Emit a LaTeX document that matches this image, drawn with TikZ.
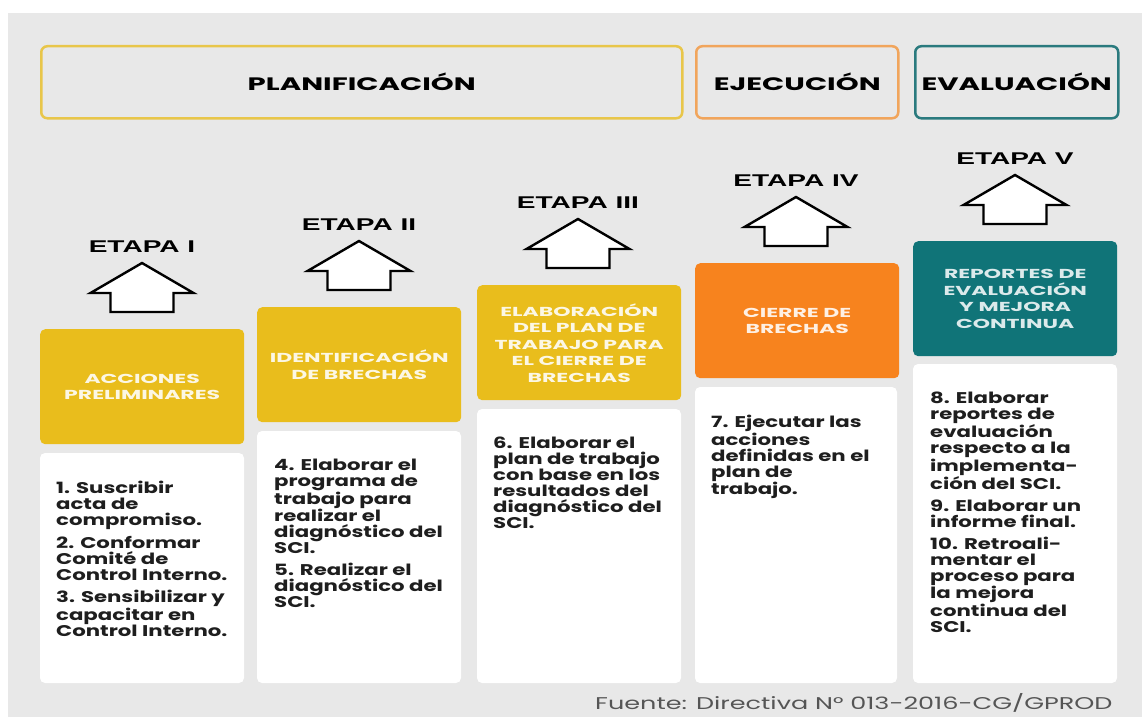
\documentclass[tikz,border=0pt]{standalone}
\usepackage{fontspec}
\setmainfont{Poppins}
\newfontfamily\etapafont{Liberation Sans}[FakeStretch=1.65]
\newfontfamily\phasefont{Poppins}[FakeStretch=1.62]
\newfontfamily\headfont{Poppins}[FakeStretch=1.69]
\newfontfamily\bodyfont{Poppins}[FakeStretch=1.37]
\newfontfamily\notefont{Poppins}[FakeStretch=1.5]
\definecolor{panelgray}{RGB}{232,232,232}
\definecolor{planyellow}{RGB}{233,189,28}
\definecolor{planline}{RGB}{232,198,74}
\definecolor{ejeorange}{RGB}{247,131,30}
\definecolor{ejeline}{RGB}{241,165,92}
\definecolor{evalteal}{RGB}{16,116,120}
\definecolor{evalline}{RGB}{42,122,126}
\definecolor{bodyink}{RGB}{30,30,30}
\definecolor{noteink}{RGB}{85,85,85}
\begin{document}
\begin{tikzpicture}[x=1pt, y=-1pt,
  phase/.style={draw, line width=2.5pt, rounded corners=6pt, minimum height=72pt, anchor=north west,
    font=\phasefont\bfseries\fontsize{18}{20}\selectfont, text=black},
  etapa/.style={font=\etapafont\bfseries\fontsize{17}{20}\selectfont, text=black},
  headbox/.style={rounded corners=5pt, minimum width=204pt, minimum height=115pt, anchor=north west,
    align=center, font=\headfont\bfseries\fontsize{13}{16.5}\selectfont, inner sep=2pt},
  bodytxt/.style={anchor=north west, align=left, inner sep=0pt, text=bodyink,
    font=\bodyfont\bfseries\fontsize{15.5}{16}\selectfont},
  upar/.pic={\draw[line width=2.4pt, fill=white, line join=miter]
    (0,0) -- (51.5,30) -- (31.5,30) -- (31.5,49) -- (-31.5,49) -- (-31.5,30) -- (-51.5,30) -- cycle;}]
  \useasboundingbox (0,0) rectangle (1142,717);
  \fill[white] (0,0) rectangle (1142,717);
  \fill[panelgray] (8,13) rectangle (1142,717);
  % fases
  \node[phase, draw=planline, minimum width=641pt] (plan) at (40,45) {PLANIFICACIÓN};
  \node[phase, draw=ejeline, minimum width=202pt] (ejec) at (695,45) {EJECUCIÓN};
  \node[phase, draw=evalline, minimum width=203pt] (eval) at (914,45) {EVALUACIÓN};
  % etapa I
  \node[etapa] (et1) at (142,247) {ETAPA I};
  \pic at (142,263) {upar};
  \node[headbox, fill=planyellow, text=white!88!planyellow] (h1) at (40,329) {ACCIONES\\PRELIMINARES};
  \fill[white, rounded corners=5pt] (40,453) rectangle (244,683);
  \node[bodytxt] (b1) at (56,481) {1. Suscribir\\acta de\\compromiso.\\[6pt]2. Conformar\\Comité de\\Control Interno.\\[6pt]3. Sensibilizar y\\capacitar en\\Control Interno.};
  % etapa II
  \node[etapa] (et2) at (359,225) {ETAPA II};
  \pic at (359,241) {upar};
  \node[headbox, fill=planyellow, text=white!88!planyellow] (h2) at (257,307) {IDENTIFICACIÓN\\DE BRECHAS};
  \fill[white, rounded corners=5pt] (257,431) rectangle (461,683);
  \node[bodytxt] (b2) at (274,459) {4. Elaborar el\\programa de\\trabajo para\\realizar el\\diagnóstico del\\SCI.\\[6pt]5. Realizar el\\diagnóstico del\\SCI.};
  % etapa III
  \node[etapa] (et3) at (578,203) {ETAPA III};
  \pic at (578,219) {upar};
  \node[headbox, fill=planyellow, text=white!88!planyellow] (h3) at (477,285) {ELABORACIÓN\\DEL PLAN DE\\TRABAJO PARA\\EL CIERRE DE\\BRECHAS};
  \fill[white, rounded corners=5pt] (477,409) rectangle (681,683);
  \node[bodytxt] (b3) at (493,437) {6. Elaborar el\\plan de trabajo\\con base en los\\resultados del\\diagnóstico del\\SCI.};
  % etapa IV
  \node[etapa] (et4) at (796,181) {ETAPA IV};
  \pic at (796,197) {upar};
  \node[headbox, fill=ejeorange, text=white!88!ejeorange] (h4) at (695,263) {CIERRE DE\\BRECHAS};
  \fill[white, rounded corners=5pt] (695,387) rectangle (897,683);
  \node[bodytxt] (b4) at (711,415) {7. Ejecutar las\\acciones\\definidas en el\\plan de\\trabajo.};
  % etapa V
  \node[etapa] (et5) at (1015,159) {ETAPA V};
  \pic at (1015,175) {upar};
  \node[headbox, fill=evalteal, text=white!85!evalteal] (h5) at (913,241) {REPORTES DE\\EVALUACIÓN\\Y MEJORA\\CONTINUA};
  \fill[white, rounded corners=5pt] (913,364) rectangle (1117,683);
  \node[bodytxt] (b5) at (930,392) {8. Elaborar\\reportes de\\evaluación\\respecto a la\\implementa-\\ción del SCI.\\[6pt]9. Elaborar un\\informe final.\\[6pt]10. Retroali-\\mentar el\\proceso para\\la mejora\\continua del\\SCI.};
  % fuente
  \node[anchor=east, text=noteink, font=\notefont\fontsize{17}{20}\selectfont] (src) at (1116,703) {Fuente: Directiva N° 013-2016-CG/GPROD};
\end{tikzpicture}
\end{document}
